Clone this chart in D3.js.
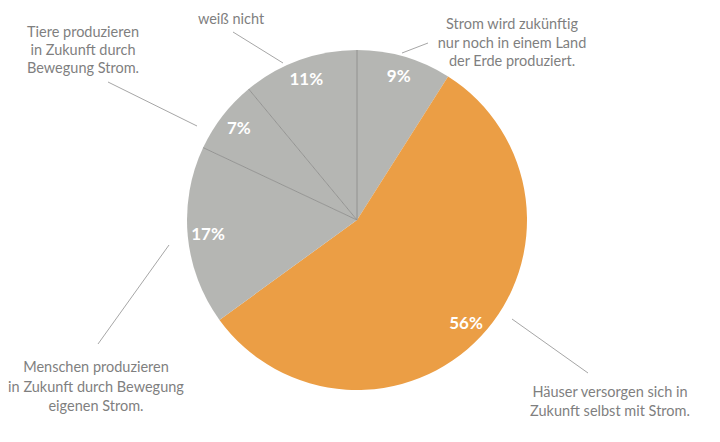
<!DOCTYPE html>
<html><head><meta charset="utf-8">
<script src="https://cdn.jsdelivr.net/npm/d3@7"></script>
<style>body{margin:0;background:#fff}svg{display:block}</style>
</head><body>
<svg id="c" width="720" height="442"></svg>
<script>
const categories = [
  "Strom wird zukünftig|nur noch in einem Land|der Erde produziert.",
  "Häuser versorgen sich in|Zukunft selbst mit Strom.",
  "Menschen produzieren|in Zukunft durch Bewegung|eigenen Strom.",
  "Tiere produzieren|in Zukunft durch|Bewegung Strom.",
  "weiß nicht"
];
const values = [9, 56, 17, 7, 11];
const colors = ["#b5b6b3", "#eb9e45", "#b5b6b3", "#b5b6b3", "#b5b6b3"];
// label anchor positions (text centre x, first-line centre y) and leader lines
const labelPos = [[512, 24], [610, 392], [96, 367], [83, 32], [231, 19]];
const leaders = [[[428, 43], [402, 53]], [[512, 319], [588, 373]], [[169, 245], [98, 344]], [[108, 82], [197, 126]], [[233, 32], [283, 63]]];
const lineHeights = [18.5, 19, 19.5, 18, 18];

const cx = 357, cy = 220, R = 170;
const svg = d3.select("#c");
const g = svg.append("g").attr("transform", `translate(${cx},${cy})`);
const pie = d3.pie().sort(null).value(d => d)(values);
const arc = d3.arc().innerRadius(0).outerRadius(R);
g.selectAll("path.s").data(pie).join("path").attr("class", "s")
  .attr("d", arc).attr("fill", (d, i) => colors[i]);
// separators between grey slices
pie.forEach((d, i) => {
  const prev = (i - 1 + pie.length) % pie.length;
  if (colors[i] === colors[prev] && colors[i] !== "#eb9e45") {
    const a = d.startAngle;
    g.append("line").attr("x1", 0).attr("y1", 0)
      .attr("x2", R * Math.sin(a)).attr("y2", -R * Math.cos(a))
      .attr("stroke", "#8e8f8d").attr("stroke-width", 0.9);
  }
});
// percent labels
const lab = d3.arc().innerRadius(R * 0.88).outerRadius(R * 0.88);
g.selectAll("text.p").data(pie).join("text").attr("class", "p")
  .attr("transform", d => `translate(${lab.centroid(d)})`)
  .attr("text-anchor", "middle").attr("dy", "0.36em")
  .attr("fill", "#fff").attr("font-family", "Lato, sans-serif")
  .attr("font-weight", "bold").attr("font-size", 17)
  .text(d => d.value + "%");
// leader lines
svg.selectAll("line.l").data(leaders).join("line").attr("class", "l")
  .attr("x1", d => d[0][0]).attr("y1", d => d[0][1])
  .attr("x2", d => d[1][0]).attr("y2", d => d[1][1])
  .attr("stroke", "#a6a6a6").attr("stroke-width", 1);
// category labels
categories.forEach((c, i) => {
  const t = svg.append("text").attr("text-anchor", "middle")
    .attr("fill", "#7f7f7f").attr("font-family", "Lato, sans-serif").attr("font-size", 14.5);
  c.split("|").forEach((ln, j) => {
    t.append("tspan").attr("x", labelPos[i][0])
      .attr("y", labelPos[i][1] + j * lineHeights[i]).attr("dy", "0.35em").text(ln);
  });
});
</script>
</body></html>
